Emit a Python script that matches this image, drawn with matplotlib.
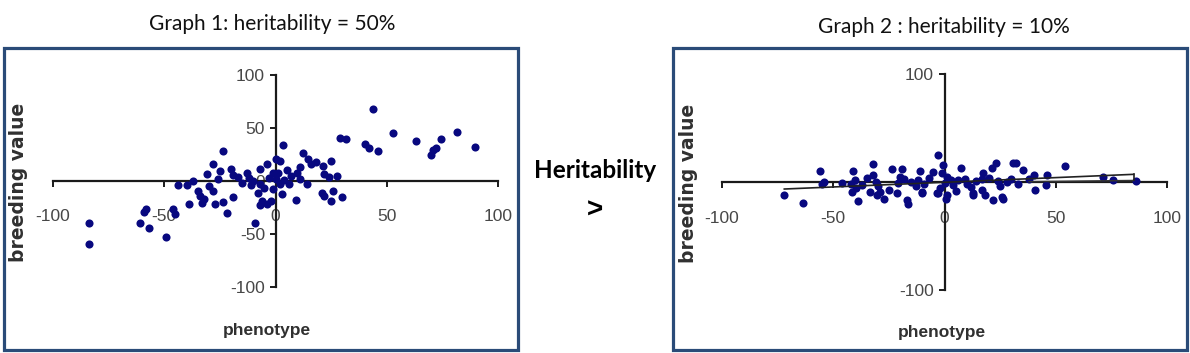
import matplotlib
matplotlib.use("Agg")
import matplotlib.pyplot as plt
from matplotlib.patches import Rectangle

plt.rcParams["axes.unicode_minus"] = False

W, H = 1190, 353

# ---------------- data ----------------
titles = ["Graph 1: heritability = 50%", "Graph 2 : heritability = 10%"]
x_label = "phenotype"
y_label = "breeding value"
middle_text = "Heritability"
middle_sign = ">"

x_ticks = [-100, -50, 0, 50, 100]
y_ticks_1 = [-100, -50, 0, 50, 100]
y_ticks_2 = [-100, 100]

pheno_1 = [-84, -84, -61, -59, -58, -57, -49, -46, -45, -44, -40, -39, -37, -35, -34, -32, -33,
           -31, -28, -28, -27, -25, -23.5, -23.5, -22, -20, -19, -19, -13, -12, -7, -7, -8, -5,
           -6, -7, -4, -2, -9, -4, 0, 2, 3.5, -1, 1, -3, 0, 2, 3, 6, 9, 9.5, 11, 11, 12.5, 14.7,
           18, 16, 14, 21.5, 25, 22, 27.5, 24, 21, 22, 26, 25, 30, 29, 31.5, 40, 42, 44, 46, 53,
           63, 70, 71, 72, 74.4, 81.6, 89.5, -30, -26, -15, -17, 5, 7, -10, -1, 4, -11]
breed_1 = [-40, -59, -40, -29, -26, -44, -53, -26, -31, -4, -4, -22, 0, -9, -14, -17, -21,
           7, 16, -9, -22, 9, 28, -20, -30, 11, 6, -15, 8, 3, 11, -3, -11, -7,
           -19, -23, -22, -19, -40, 16, 21, 19, 34, 8, 8, 3, 2, -3, -12, -3, -18, 8, 13, 2, 26, 21,
           18, 16, -3, 14, 19, 7, 5, 4, -11, -14, -9, -19, -15, 41, 40, 35, 31, 68, 28, 45,
           38, 25, 29, 31, 40, 46, 32, -5, 2, -2, 4, 10, 5, 0, -8, 1, -4]

pheno_2 = [-72, -63.5, -56, -55, -54, -41.3, -40.2, -42, -40, -38.7, -37, -32, -32, -31, -30, -29,
           -27, -23.7, -19.2, -20, -21, -18, -17, -16.5, -15, -13, -12, -9, -7, -5, -3, -0.5, -1,
           1, 0, -2, 1, 0.7, 3, 4, 7.3, 6.2, 9, 10, 13, 16.7, 17.4, 17, 18, 21.2, 23, 22, 20, 24,
           25, 26.4, 28, 31, 32.3, 30, 33, 35.4, 38, 40, 40.7, 46, 45.6, 54, 71.4, 75.9, 86,
           -46, -35, -25, -10, 5, 12, -11, -3, 14, -41.7, -33.5, -30.5, -21.5, -10.2, -3.5, 13, 25.7]
breed_2 = [-12, -19.7, 10, -2, 0, 10, 2, -2, -6, -17.5, -3, 16.7, 6.5, 0, -4, -9,
           -15.5, 11.7, 11.7, 5, -1, 3, -16.7, -20, 0, -4, 2, -2, 4, 9.5, 25, 15.7, 8,
           5, -1, -6, -12, -16, 2, -3, 12.7, 2, 3, -2, -10.5, -7.4, 8, 3, -12, 12.7, 18, -16.7, 4, 1,
           -4, -16, 0, 18, 18, 3, -2, 11, 3, 6.5, -7.4, 6.5, -3, 15, 4.3, 2, 1.2,
           -1, 4, -7, -9, -8, -5, 10, -10, 1, -9, -9, -12, -10.5, -10.5, -10.5, -12, -13.6]

trend_x = [-72, 85]
trend_y = [-6.5, 7.1]
trend_box_x = [38, 85]
trend_box_y = [0.3, 1.4]

# ---------------- style ----------------
DOT = "#08087f"
FRAME = "#2a4b78"
TICK_COL = "#474747"
LABEL_COL = "#303030"

fig = plt.figure(figsize=(W / 100, H / 100), dpi=100)
fig.patch.set_facecolor("white")


def fx(px):
    return px / W


def fy(py):
    return 1 - py / H


def make_axes(x0, x1, ytop, ybot):
    return fig.add_axes([fx(x0), fy(ybot), (x1 - x0) / W, (ybot - ytop) / H])


def style_axes(ax, yticks, xpad, ypad):
    ax.set_xlim(-100, 100)
    ax.set_ylim(-100, 100)
    ax.patch.set_alpha(0)
    for s in ["top", "right"]:
        ax.spines[s].set_visible(False)
    for s in ["left", "bottom"]:
        ax.spines[s].set_position(("data", 0))
        ax.spines[s].set_linewidth(1.6)
        ax.spines[s].set_color("#1a1a1a")
    ax.set_xticks(x_ticks)
    ax.set_yticks(yticks)
    ax.tick_params(axis="x", direction="out", length=4, width=1.4, color="#1a1a1a",
                   pad=xpad, labelsize=12.5, labelcolor=TICK_COL)
    ax.tick_params(axis="y", direction="out", length=4, width=1.4, color="#1a1a1a",
                   pad=ypad, labelsize=12.5, labelcolor=TICK_COL)
    for lab in ax.get_xticklabels() + ax.get_yticklabels():
        lab.set_fontfamily("Liberation Sans")


ax1 = make_axes(53, 498, 75, 287)
style_axes(ax1, y_ticks_1, 16, 3.5)
ax1.scatter(pheno_1, breed_1, s=34, color=DOT, linewidths=0, zorder=3, clip_on=False)

ax2 = make_axes(722, 1167, 74, 290)
style_axes(ax2, y_ticks_2, 17, 3.5)
ax2.scatter(pheno_2, breed_2, s=34, color=DOT, linewidths=0, zorder=3, clip_on=False)
ax2.plot(trend_x, trend_y, color="#222222", lw=1.2, zorder=4)
ax2.plot(trend_box_x, trend_box_y, color="#333333", lw=1.1, zorder=4)
ax2.plot([trend_x[1], trend_x[1]], [trend_box_y[1], trend_y[1]], color="#222222", lw=1.2, zorder=4)

# frames
for (x0, x1) in [(4, 518), (673, 1187)]:
    fig.patches.append(Rectangle((fx(x0), fy(350)), (x1 - x0) / W, (350 - 48) / H,
                                 transform=fig.transFigure, fill=False,
                                 edgecolor=FRAME, lw=2.3, zorder=10))

# titles
fig.text(fx(272), fy(24), titles[0], ha="center", va="center", fontsize=15,
         family="Lato", color="#111111")
fig.text(fx(944), fy(27), titles[1], ha="center", va="center", fontsize=15,
         family="Lato", color="#111111")

# axis labels
for cx, cy in [(267, 330), (942, 333)]:
    fig.text(fx(cx), fy(cy), x_label, ha="center", va="center", fontsize=12.5,
             family="Liberation Sans", weight="bold", color=LABEL_COL)
for cx, cy in [(19, 182), (688, 183)]:
    fig.text(fx(cx), fy(cy), y_label, ha="center", va="center", fontsize=13.5,
             family="DejaVu Sans", weight="bold", color=LABEL_COL, rotation=90)

# middle text
fig.text(fx(595), fy(170), middle_text, ha="center", va="center", fontsize=17.5,
         family="Lato", weight="bold", color="#000000")
fig.text(fx(595), fy(211), middle_sign, ha="center", va="center", fontsize=20,
         family="Liberation Sans", weight="bold", color="#000000")

fig.savefig("out.png", dpi=100, facecolor="white")
